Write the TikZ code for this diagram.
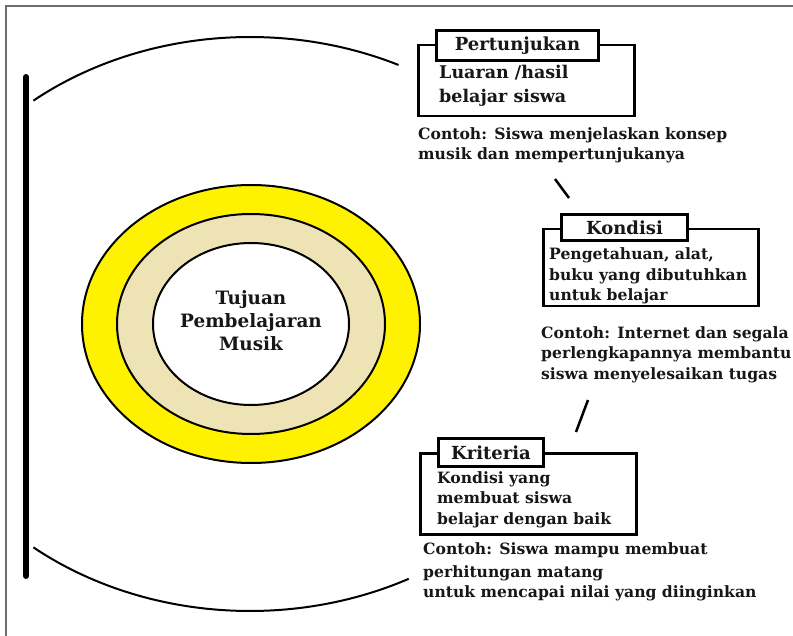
\documentclass[tikz,border=0pt]{standalone}
\usepackage{fontspec}
\setmainfont{DejaVu Serif}
\definecolor{ringyellow}{RGB}{255,242,0}
\definecolor{ringbeige}{RGB}{238,227,180}
\definecolor{ink}{RGB}{25,22,20}
\definecolor{framegray}{RGB}{110,110,110}
\tikzset{
  txt/.style={anchor=base west, inner sep=0pt, font=\fontsize{15.6}{18}\selectfont\bfseries, text=ink},
  bigtxt/.style={txt, font=\fontsize{17.5}{20}\selectfont\bfseries},
  midtxt/.style={anchor=base, inner sep=0pt, font=\fontsize{18.4}{22}\selectfont\bfseries, text=ink},
  outerbox/.style={draw, line width=2.5pt, anchor=north west, inner sep=0pt},
  titlebox/.style={draw, line width=3pt, fill=white, anchor=north west, inner sep=0pt,
    font=\fontsize{18}{20}\selectfont\bfseries, text=ink},
  arcline/.style={line width=2pt},
  ring/.style={draw, line width=2pt},
  link/.style={line width=2.5pt},
}
\begin{document}
\begin{tikzpicture}[x=1pt,y=-1pt]
\useasboundingbox (0,0) rectangle (793,636);
\fill[white] (0,0) rectangle (793,636);
% frame
\draw[framegray, line width=1.5pt] (793,6) -- (6,6) -- (6,636);
% thick bar on the left
\draw[line width=6pt, line cap=round] (26,77) -- (26,576);
% large bracket arcs
\draw[arcline] plot[domain=64.5:128.9, samples=80] ({250+345*cos(\x)},{324-287*sin(\x)});
\draw[arcline] plot[domain=231.1:297.4, samples=80] ({250+345*cos(\x)},{324-287*sin(\x)});
% concentric rings
\path[ring, fill=ringyellow] (251,324) ellipse [x radius=169, y radius=139];
\path[ring, fill=ringbeige] (251,324) ellipse [x radius=134, y radius=110];
\path[ring, fill=white] (251,324) ellipse [x radius=98, y radius=81];
\node[midtxt] (goal1) at (251,305) {Tujuan};
\node[midtxt] (goal2) at (251,328) {Pembelajaran};
\node[midtxt] (goal3) at (251,351) {Musik};

% Pertunjukan
\node[outerbox, minimum width=216pt, minimum height=71pt] (pout) at (417,44) {};
\node[titlebox, minimum width=162pt, minimum height=30pt] (ptitle) at (435,29) {Pertunjukan};
\node[bigtxt] (pb1) at (439,79) {Luaran /hasil};
\node[bigtxt] (pb2) at (439,103) {belajar siswa};
\node[txt] (pc1) at (418,140) {Contoh: Siswa menjelaskan konsep};
\node[txt] (pc2) at (418,160) {musik dan mempertunjukanya};

% Kondisi
\node[outerbox, minimum width=215pt, minimum height=77pt] (kout) at (542,228) {};
\node[titlebox, minimum width=126pt, minimum height=26pt] (ktitle) at (560,213) {Kondisi};
\node[txt] (kb1) at (549,260) {Pengetahuan, alat,};
\node[txt] (kb2) at (549,281) {buku yang dibutuhkan};
\node[txt] (kb3) at (549,301) {untuk belajar};
\node[txt] (kc1) at (541,339) {Contoh: Internet dan segala};
\node[txt] (kc2) at (541,359) {perlengkapannya membantu};
\node[txt] (kc3) at (541,380) {siswa menyelesaikan tugas};

% Kriteria
\node[outerbox, minimum width=216pt, minimum height=81pt] (rout) at (419,452) {};
\node[titlebox, minimum width=105pt, minimum height=28pt] (rtitle) at (437,437) {Kriteria};
\node[txt] (rb1) at (437,483) {Kondisi yang};
\node[txt] (rb2) at (437,503) {membuat siswa};
\node[txt] (rb3) at (437,524) {belajar dengan baik};
\node[txt] (rc1) at (423,554) {Contoh: Siswa mampu membuat};
\node[txt] (rc2) at (423,577) {perhitungan matang};
\node[txt] (rc3) at (423,597) {untuk mencapai nilai yang diinginkan};

% short links between the groups
\coordinate (l1a) at (555,179);
\coordinate (l1b) at (569,198);
\coordinate (l2a) at (588,400);
\coordinate (l2b) at (576,432);
\draw[link] (l1a) -- (l1b);
\draw[link] (l2a) -- (l2b);
\end{tikzpicture}
\end{document}
